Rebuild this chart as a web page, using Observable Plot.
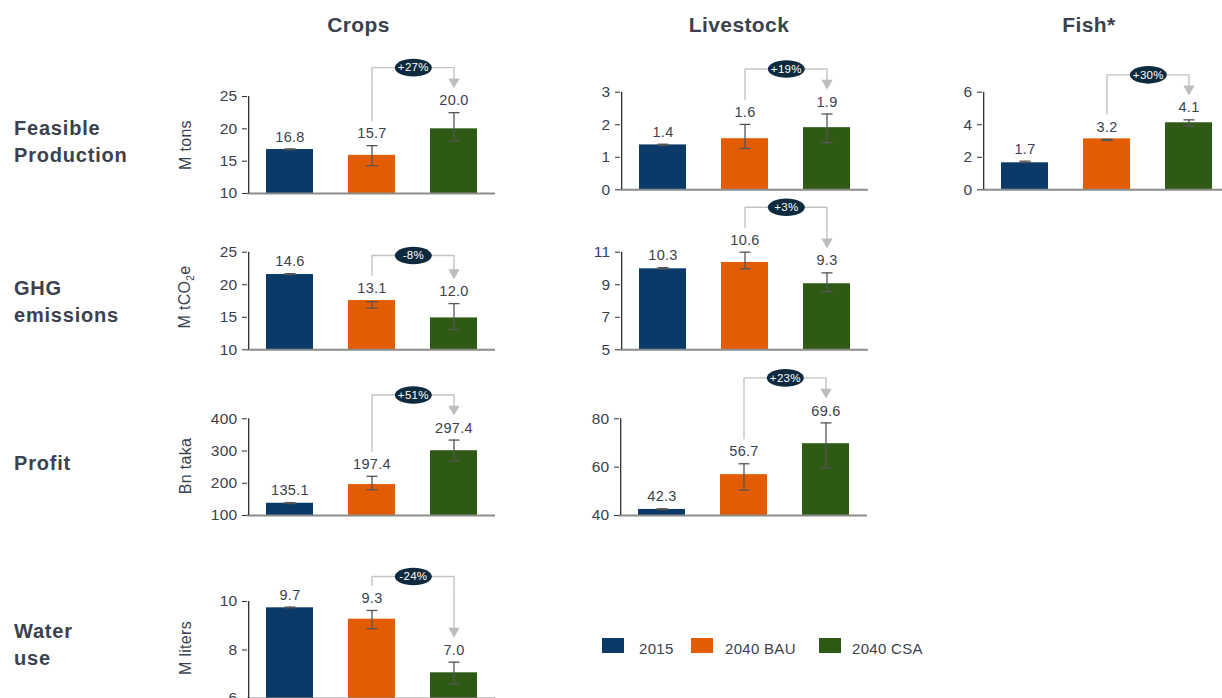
<!DOCTYPE html>
<html><head><meta charset="utf-8">
<script src="https://cdn.jsdelivr.net/npm/d3@7"></script>
<script src="https://cdn.jsdelivr.net/npm/@observablehq/plot@0.6"></script>
<style>
body{margin:0;width:1222px;height:698px;overflow:hidden;background:#fff;font-family:"Liberation Sans",Arial,sans-serif;color:#39424e;position:relative}
.abs{position:absolute}
.coltitle{font-weight:bold;font-size:21px;transform:translate(-50%,-50%);letter-spacing:0.4px;white-space:nowrap}
.rowtitle{font-weight:bold;font-size:20px;line-height:27px;letter-spacing:0.8px}
.ylab{font-size:16px;transform:translate(-50%,-50%) rotate(-90deg);white-space:nowrap;letter-spacing:0.3px}
.ylab sub{font-size:10px}
.sw{width:22px;height:15px}
.lt{font-size:15px;transform:translateY(-50%);white-space:nowrap;letter-spacing:0.3px}
svg text{letter-spacing:0.3px}
</style>
</head><body>
<script>
// ---- categories, titles ----
const scenarios = ["2015", "2040 BAU", "2040 CSA"];
const scenarioColors = ["#0b3a69", "#e35c02", "#2f5a15"];
const columnTitles = ["Crops", "Livestock", "Fish*"];
const rowTitles = ["Feasible<br>Production", "GHG<br>emissions", "Profit", "Water<br>use"];
const unitLabels = ["M tons", "M tCO<sub>2</sub>e", "Bn taka", "M liters"];

// ---- Crops: feasible production ----
const cropsProdBars = [16.8, 15.9, 20.0];
const cropsProdLow = [16.75, 14.3, 18.1];
const cropsProdHigh = [16.9, 17.4, 22.5];
const cropsProdLabels = ["16.8", "15.7", "20.0"];
const cropsProdChange = "+27%";
const cropsProdTicks = [10, 15, 20, 25];

// ---- Livestock: feasible production ----
const liveProdBars = [1.38, 1.57, 1.91];
const liveProdLow = [1.37, 1.27, 1.45];
const liveProdHigh = [1.40, 2.01, 2.33];
const liveProdLabels = ["1.4", "1.6", "1.9"];
const liveProdChange = "+19%";
const liveProdTicks = [0, 1, 2, 3];

// ---- Fish: feasible production ----
const fishProdBars = [1.66, 3.13, 4.12];
const fishProdLow = [1.68, 3.03, 3.92];
const fishProdHigh = [1.76, 3.10, 4.30];
const fishProdLabels = ["1.7", "3.2", "4.1"];
const fishProdChange = "+30%";
const fishProdTicks = [0, 2, 4, 6];

// ---- Crops: GHG emissions ----
const cropsGhgBars = [21.57, 17.57, 14.9];
const cropsGhgLow = [21.55, 16.4, 13.1];
const cropsGhgHigh = [21.7, 17.4, 17.1];
const cropsGhgLabels = ["14.6", "13.1", "12.0"];
const cropsGhgChange = "-8%";
const cropsGhgTicks = [10, 15, 20, 25];

// ---- Livestock: GHG emissions ----
const liveGhgBars = [9.98, 10.37, 9.06];
const liveGhgLow = [9.97, 9.98, 8.58];
const liveGhgHigh = [10.05, 11.0, 9.73];
const liveGhgLabels = ["10.3", "10.6", "9.3"];
const liveGhgChange = "+3%";
const liveGhgTicks = [5, 7, 9, 11];

// ---- Crops: profit ----
const cropsProfitBars = [138, 196, 301];
const cropsProfitLow = [137, 180, 269];
const cropsProfitHigh = [140, 221.5, 334];
const cropsProfitLabels = ["135.1", "197.4", "297.4"];
const cropsProfitChange = "+51%";
const cropsProfitTicks = [100, 200, 300, 400];

// ---- Livestock: profit ----
const liveProfitBars = [42.5, 56.9, 69.7];
const liveProfitLow = [42.4, 50.5, 59.7];
const liveProfitHigh = [42.8, 61.4, 78.3];
const liveProfitLabels = ["42.3", "56.7", "69.6"];
const liveProfitChange = "+23%";
const liveProfitTicks = [40, 60, 80];

// ---- Crops: water use ----
const cropsWaterBars = [9.74, 9.27, 7.06];
const cropsWaterLow = [9.74, 8.88, 6.6];
const cropsWaterHigh = [9.77, 9.63, 7.5];
const cropsWaterLabels = ["9.7", "9.3", "7.0"];
const cropsWaterChange = "-24%";
const cropsWaterTicks = [6, 8, 10];

// ---------------------------------------------------------------
const textColor = "#39424e";
const pillSymbol = {draw(ctx) {
  const rx = 18.5, ry = 8.8, k = 0.5523;
  ctx.moveTo(rx, 0);
  ctx.bezierCurveTo(rx, ry * k, rx * k, ry, 0, ry);
  ctx.bezierCurveTo(-rx * k, ry, -rx, ry * k, -rx, 0);
  ctx.bezierCurveTo(-rx, -ry * k, -rx * k, -ry, 0, -ry);
  ctx.bezierCurveTo(rx * k, -ry, rx, -ry * k, rx, 0);
  ctx.closePath();
}};
const capSymbol = {draw(ctx) { ctx.moveTo(-5.5, 0); ctx.lineTo(5.5, 0); }};

function addDiv(cls, html, left, top) {
  const d = document.createElement("div");
  d.className = "abs " + cls;
  d.innerHTML = html;
  d.style.left = left + "px";
  d.style.top = top + "px";
  document.body.appendChild(d);
  return d;
}

function panel(o) {
  const plotW = 248;
  const {left, top, width, height, marginLeft, marginTop, marginBottom, domain, ticks, bars, low, high, labels, change, pillGap = 33} = o;
  const marginRight = width - marginLeft - plotW;
  const step = plotW / 3;
  const data = scenarios.map((s, i) => ({s, v: bars[i], lo: low[i], hi: high[i], label: labels[i], top: Math.max(bars[i], high[i])}));
  const yPx = d3.scaleLinear(domain, [height - marginBottom, marginTop]);
  const labelPx = i => yPx(data[i].top) - 12;
  const pillPx = Math.min(labelPx(1), labelPx(2)) - pillGap;
  const startPx = labelPx(1) - 13;
  const tipPx = labelPx(2) - 14;
  const inv = p => yPx.invert(p);
  const bracket = [
    {s: scenarios[1], y: inv(startPx)},
    {s: scenarios[1], y: inv(pillPx)},
    {s: scenarios[2], y: inv(pillPx)},
    {s: scenarios[2], y: inv(tipPx - 5)}
  ];
  const pill = [{s: scenarios[1], y: inv(pillPx), t: change}];
  const svg = Plot.plot({
    width, height, marginLeft, marginRight, marginTop, marginBottom,
    style: {background: "transparent", overflow: "visible", fontFamily: "Liberation Sans, Arial, sans-serif", fontSize: "14.5px", color: textColor},
    x: {domain: scenarios, paddingInner: 0.43, paddingOuter: 0.215, axis: null},
    y: {domain},
    color: {domain: scenarios, range: scenarioColors},
    marks: [
      Plot.barY(data, {x: "s", y1: domain[0], y2: "v", fill: "s"}),
      Plot.ruleY([domain[0]], {stroke: "#8c8c8c", strokeWidth: 2}),
      Plot.ruleX([scenarios[0]], {dx: -step / 2, y1: domain[0], y2: domain[1], stroke: "#2b2f36", strokeWidth: 1.3}),
      Plot.axisY({ticks, tickFormat: d3.format("d"), tickSize: 5, tickPadding: 5, fontSize: 15.5, label: null, stroke: "#2b2f36", fill: textColor}),
      Plot.ruleX(data, {x: "s", y1: "lo", y2: "hi", stroke: "#555", strokeWidth: 1.3}),
      Plot.dot(data, {x: "s", y: "lo", symbol: capSymbol, stroke: "#555", strokeWidth: 1.3}),
      Plot.dot(data, {x: "s", y: "hi", symbol: capSymbol, stroke: "#555", strokeWidth: 1.3}),
      Plot.text(data, {x: "s", y: "top", text: "label", dy: -12, fontSize: 14.5, fill: textColor}),
      Plot.line(bracket, {x: "s", y: "y", stroke: "#c4c4c4", strokeWidth: 1.4}),
      Plot.dot([bracket[3]], {x: "s", y: "y", symbol: "triangle", rotate: 180, r: 4.2, fill: "#bdbdbd", stroke: null}),
      Plot.dot(pill, {x: "s", y: "y", dx: step / 2, symbol: pillSymbol, fill: "#0d2a3e", stroke: null}),
      Plot.text(pill, {x: "s", y: "y", dx: step / 2, text: "t", fill: "white", fontSize: 11.5})
    ]
  });
  svg.style.position = "absolute";
  svg.style.left = left + "px";
  svg.style.top = top + "px";
  document.body.appendChild(svg);
}

// column titles
addDiv("coltitle", columnTitles[0], 358.5, 25);
addDiv("coltitle", columnTitles[1], 739, 25);
addDiv("coltitle", columnTitles[2], 1089, 25);
// row titles
addDiv("rowtitle", rowTitles[0], 14, 114.5);
addDiv("rowtitle", rowTitles[1], 14, 274.5);
addDiv("rowtitle", rowTitles[2], 14, 449.5);
addDiv("rowtitle", rowTitles[3], 14, 617.5);
// unit labels
addDiv("ylab", unitLabels[0], 186, 145);
addDiv("ylab", unitLabels[1], 186, 297);
addDiv("ylab", unitLabels[2], 186, 466);
addDiv("ylab", unitLabels[3], 186, 648);

panel({left: 200, top: 40, width: 303, height: 160, marginLeft: 47, marginTop: 56, marginBottom: 7, domain: [10, 25], ticks: cropsProdTicks,
  bars: cropsProdBars, low: cropsProdLow, high: cropsProdHigh, labels: cropsProdLabels, change: cropsProdChange});
panel({left: 575, top: 40, width: 301, height: 160, marginLeft: 45, marginTop: 51.7, marginBottom: 10.7, domain: [0, 3], ticks: liveProdTicks,
  bars: liveProdBars, low: liveProdLow, high: liveProdHigh, labels: liveProdLabels, change: liveProdChange});
panel({left: 940, top: 40, width: 298, height: 160, marginLeft: 42, marginTop: 51.7, marginBottom: 10.7, domain: [0, 6], ticks: fishProdTicks,
  bars: fishProdBars, low: fishProdLow, high: fishProdHigh, labels: fishProdLabels, change: fishProdChange});
panel({left: 200, top: 200, width: 303, height: 160, marginLeft: 47, marginTop: 51.7, marginBottom: 10.7, domain: [10, 25], ticks: cropsGhgTicks,
  bars: cropsGhgBars, low: cropsGhgLow, high: cropsGhgHigh, labels: cropsGhgLabels, change: cropsGhgChange});
panel({left: 575, top: 200, width: 301, height: 160, marginLeft: 45, marginTop: 51.7, marginBottom: 10.7, domain: [5, 11], ticks: liveGhgTicks,
  bars: liveGhgBars, low: liveGhgLow, high: liveGhgHigh, labels: liveGhgLabels, change: liveGhgChange});
panel({left: 200, top: 360, width: 303, height: 165, marginLeft: 47, marginTop: 58.3, marginBottom: 10, domain: [100, 400], ticks: cropsProfitTicks,
  bars: cropsProfitBars, low: cropsProfitLow, high: cropsProfitHigh, labels: cropsProfitLabels, change: cropsProfitChange});
panel({left: 574, top: 360, width: 301, height: 165, marginLeft: 45, marginTop: 58.3, marginBottom: 10, domain: [40, 80], ticks: liveProfitTicks,
  bars: liveProfitBars, low: liveProfitLow, high: liveProfitHigh, labels: liveProfitLabels, change: liveProfitChange});
panel({left: 200, top: 540, width: 303, height: 170, marginLeft: 47, marginTop: 61, marginBottom: 12, domain: [6, 10], ticks: cropsWaterTicks,
  bars: cropsWaterBars, low: cropsWaterLow, high: cropsWaterHigh, labels: cropsWaterLabels, change: cropsWaterChange, pillGap: 22});

// legend
const legendX = [602, 691, 819];
const legendTextX = [639, 725, 852];
scenarios.forEach((s, i) => {
  const sw = addDiv("sw", "", legendX[i], 638);
  sw.style.background = scenarioColors[i];
  addDiv("lt", s, legendTextX[i], 648);
});
</script>
</body></html>
